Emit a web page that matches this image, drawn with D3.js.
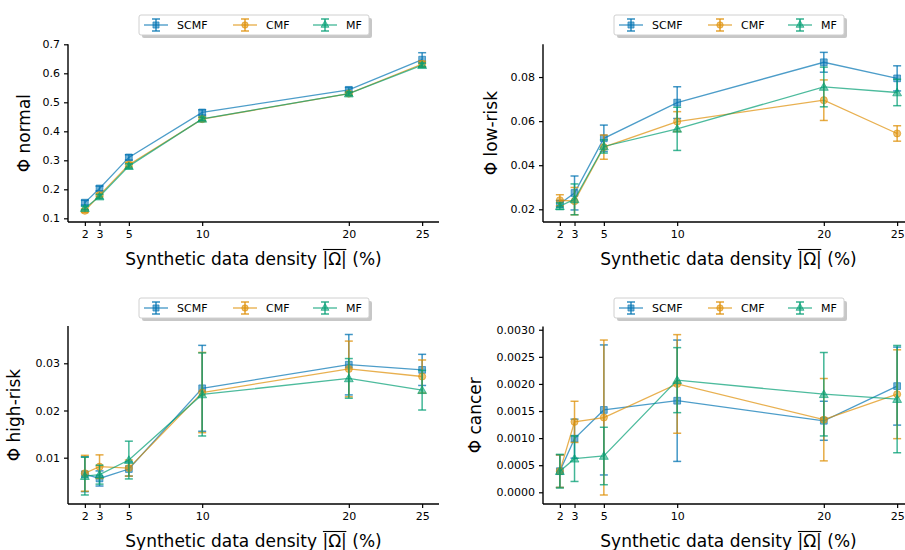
<!DOCTYPE html>
<html><head><meta charset="utf-8">
<script src="https://cdn.jsdelivr.net/npm/d3@7"></script>
<style>
body{margin:0;background:#fff}
svg{display:block}
text{font-family:"DejaVu Sans",sans-serif;fill:#000}
</style>
</head><body>
<svg id="c" width="905" height="550"></svg>
<script>
// ---------- data ----------
const xValues = [2, 3, 5, 10, 20, 25];
const xTickLabels = ["2", "3", "5", "10", "20", "25"];
const seriesNames = ["SCMF", "CMF", "MF"];

// Φ normal
const normalSCMF    = [0.154, 0.203, 0.310, 0.465, 0.543, 0.647];
const normalSCMFErr = [0.008, 0.008, 0.009, 0.009, 0.008, 0.024];
const normalCMF     = [0.126, 0.180, 0.285, 0.442, 0.530, 0.632];
const normalCMFErr  = [0.006, 0.006, 0.008, 0.007, 0.006, 0.010];
const normalMF      = [0.135, 0.175, 0.280, 0.443, 0.530, 0.628];
const normalMFErr   = [0.006, 0.007, 0.008, 0.006, 0.006, 0.007];
const normalTicks   = [0.1, 0.2, 0.3, 0.4, 0.5, 0.6, 0.7];

// Φ low-risk
const lowSCMF    = [0.0225, 0.0274, 0.0522, 0.0684, 0.0867, 0.0794];
const lowSCMFErr = [0.0015, 0.0077, 0.0060, 0.0072, 0.0045, 0.0057];
const lowCMF     = [0.0241, 0.0237, 0.0482, 0.0598, 0.0695, 0.0544];
const lowCMFErr  = [0.0025, 0.0062, 0.0055, 0.0045, 0.0092, 0.0035];
const lowMF      = [0.0214, 0.0245, 0.0485, 0.0565, 0.0755, 0.0730];
const lowMFErr   = [0.0015, 0.0070, 0.0030, 0.0098, 0.0090, 0.0060];
const lowTicks   = [0.02, 0.04, 0.06, 0.08];

// Φ high-risk
const highSCMF    = [0.0065, 0.0056, 0.0076, 0.0247, 0.0297, 0.0286];
const highSCMFErr = [0.0037, 0.0016, 0.0015, 0.0091, 0.0064, 0.0033];
const highCMF     = [0.0067, 0.0081, 0.0078, 0.0238, 0.0288, 0.0272];
const highCMFErr  = [0.0038, 0.0025, 0.0017, 0.0085, 0.0059, 0.0035];
const highMF      = [0.0061, 0.0064, 0.0095, 0.0234, 0.0268, 0.0243];
const highMFErr   = [0.0040, 0.0020, 0.0040, 0.0088, 0.0042, 0.0042];
const highTicks   = [0.01, 0.02, 0.03];

// Φ cancer
const cancerSCMF    = [0.00039, 0.00099, 0.00152, 0.00169, 0.00132, 0.00196];
const cancerSCMFErr = [0.00030, 0.00036, 0.00120, 0.00112, 0.00036, 0.00072];
const cancerCMF     = [0.00039, 0.00130, 0.00138, 0.00200, 0.00134, 0.00181];
const cancerCMFErr  = [0.00030, 0.00038, 0.00143, 0.00091, 0.00076, 0.00082];
const cancerMF      = [0.00039, 0.00062, 0.00067, 0.00207, 0.00181, 0.00172];
const cancerMFErr   = [0.00031, 0.00042, 0.00053, 0.00060, 0.00077, 0.00099];
const cancerTicks   = [0.0000, 0.0005, 0.0010, 0.0015, 0.0020, 0.0025, 0.0030];

const colors = {SCMF: "#0173b2", CMF: "#de8f05", MF: "#029e73"};
const symbols = {SCMF: d3.symbolSquare, CMF: d3.symbolCircle, MF: d3.symbolTriangle};
const symSize = {SCMF: 46, CMF: 40, MF: 34};

const panels = [
  {ylabel: "Φ normal", ticks: normalTicks, fmt: d3.format(".1f"),
   vals: {SCMF: [normalSCMF, normalSCMFErr], CMF: [normalCMF, normalCMFErr], MF: [normalMF, normalMFErr]},
   box: {l: 68, r: 439, t: 44.3, b: 222}, ydom: [0.0873, 0.7], legend: {x: 139, y: 15}, ylabX: 29.5},
  {ylabel: "Φ low-risk", ticks: lowTicks, fmt: d3.format(".2f"),
   vals: {SCMF: [lowSCMF, lowSCMFErr], CMF: [lowCMF, lowCMFErr], MF: [lowMF, lowMFErr]},
   box: {l: 543, r: 914, t: 44.3, b: 222}, ydom: [0.01423, 0.09486], legend: {x: 614, y: 15}, ylabX: 497},
  {ylabel: "Φ high-risk", ticks: highTicks, fmt: d3.format(".2f"),
   vals: {SCMF: [highSCMF, highSCMFErr], CMF: [highCMF, highCMFErr], MF: [highMF, highMFErr]},
   box: {l: 68, r: 439, t: 326, b: 504}, ydom: [0.00019, 0.0379], legend: {x: 139, y: 298}, ylabX: 20},
  {ylabel: "Φ cancer", ticks: cancerTicks, fmt: d3.format(".4f"),
   vals: {SCMF: [cancerSCMF, cancerSCMFErr], CMF: [cancerCMF, cancerCMFErr], MF: [cancerMF, cancerMFErr]},
   box: {l: 543, r: 914, t: 326.5, b: 504}, ydom: [-0.000216, 0.00306], legend: {x: 614, y: 298}, ylabX: 481}
];

const svg = d3.select("#c");
const xDomain = [0.85, 26.15];

panels.forEach((p, pi) => {
  const g = svg.append("g");
  const x = d3.scaleLinear().domain(xDomain).range([p.box.l, p.box.r]);
  const y = d3.scaleLinear().domain(p.ydom).range([p.box.b, p.box.t]);

  // axes
  const xAxis = d3.axisBottom(x).tickValues(xValues).tickFormat((d, i) => xTickLabels[i]).tickSizeOuter(0).tickSize(4).tickPadding(4);
  const yAxis = d3.axisLeft(y).tickValues(p.ticks).tickFormat(p.fmt).tickSizeOuter(0).tickSize(4).tickPadding(4);
  const gx = g.append("g").attr("transform", `translate(0,${p.box.b})`).call(xAxis);
  const gy = g.append("g").attr("transform", `translate(${p.box.l},0)`).call(yAxis);
  [gx, gy].forEach(a => {
    a.select(".domain").attr("stroke", "#000").attr("stroke-width", 1.4);
    a.selectAll(".tick line").attr("stroke", "#000").attr("stroke-width", 1.2);
    a.selectAll(".tick text").attr("font-size", 11).attr("font-family", "DejaVu Sans").attr("fill", "#111");
  });
  gx.select(".domain").attr("d", `M${p.box.l},0H${p.box.r}`);
  gy.select(".domain").attr("d", `M0,${p.box.b}V${p.box.t}`);

  // series
  seriesNames.forEach(s => {
    const [v, e] = p.vals[s];
    const c = colors[s];
    const pts = xValues.map((xv, i) => ({x: xv, y: v[i], e: e[i]}));
    const sg = g.append("g");
    // error bars
    pts.forEach(d => {
      const y0 = y(d.y - d.e), y1 = y(d.y + d.e), cx = x(d.x);
      sg.append("line").attr("x1", cx).attr("x2", cx).attr("y1", y0).attr("y2", y1)
        .attr("stroke", c).attr("stroke-width", 1.5).attr("stroke-opacity", 0.75);
      [y0, y1].forEach(yy => sg.append("line").attr("x1", cx - 4).attr("x2", cx + 4).attr("y1", yy).attr("y2", yy)
        .attr("stroke", c).attr("stroke-width", 1.5).attr("stroke-opacity", 0.75));
    });
    sg.append("path").datum(pts)
      .attr("d", d3.line().x(d => x(d.x)).y(d => y(d.y)))
      .attr("fill", "none").attr("stroke", c).attr("stroke-width", 1.3).attr("stroke-opacity", 0.7);
    sg.selectAll("path.m").data(pts).enter().append("path").attr("class", "m")
      .attr("d", d3.symbol().type(symbols[s]).size(symSize[s]))
      .attr("transform", d => `translate(${x(d.x)},${y(d.y) + (s === "MF" ? 0.8 : 0)})`)
      .attr("fill", c).attr("fill-opacity", 0.55).attr("stroke", c).attr("stroke-opacity", 0.6).attr("stroke-width", 1);
  });

  // y label
  const cy = (p.box.t + p.box.b) / 2;
  g.append("text").attr("transform", `translate(${p.ylabX},${cy}) rotate(-90)`)
    .attr("text-anchor", "middle").attr("font-size", 17).text(p.ylabel);

  // x label with overline on |Ω|
  const cx = (p.box.l + p.box.r) / 2;
  const base = p.box.b + 43;
  const prefix = "Synthetic data density ";
  const xl = g.append("text").attr("x", cx).attr("y", base).attr("text-anchor", "middle").attr("font-size", 17)
    .text(prefix + "|Ω| (%)");
  const node = xl.node();
  const total = node.getComputedTextLength();
  const startX = cx - total / 2;
  const a = node.getSubStringLength(0, prefix.length);
  const b = node.getSubStringLength(0, prefix.length + 3);
  g.append("line").attr("x1", startX + a + 0.5).attr("x2", startX + b - 0.5).attr("y1", base - 15.5).attr("y2", base - 15.5)
    .attr("stroke", "#000").attr("stroke-width", 1.1);

  // legend
  const L = p.legend, W = 230, H = 20;
  const lg = svg.append("g");
  lg.append("rect").attr("x", L.x + 3).attr("y", L.y + 3).attr("width", W).attr("height", H).attr("rx", 2)
    .attr("fill", "#999").attr("fill-opacity", 0.55);
  lg.append("rect").attr("x", L.x).attr("y", L.y).attr("width", W).attr("height", H).attr("rx", 2)
    .attr("fill", "#fff").attr("stroke", "#d0d0d0").attr("stroke-width", 1);
  const offs = [5, 94, 174];
  seriesNames.forEach((s, i) => {
    const c = colors[s];
    const hx = L.x + offs[i], hy = L.y + H / 2;
    lg.append("line").attr("x1", hx).attr("x2", hx + 24).attr("y1", hy).attr("y2", hy)
      .attr("stroke", c).attr("stroke-width", 1.3).attr("stroke-opacity", 0.75);
    lg.append("line").attr("x1", hx + 12).attr("x2", hx + 12).attr("y1", hy - 6).attr("y2", hy + 6)
      .attr("stroke", c).attr("stroke-width", 1.5).attr("stroke-opacity", 0.8);
    [hy - 6, hy + 6].forEach(yy => lg.append("line").attr("x1", hx + 8).attr("x2", hx + 16).attr("y1", yy).attr("y2", yy)
      .attr("stroke", c).attr("stroke-width", 1.5).attr("stroke-opacity", 0.8));
    lg.append("path").attr("d", d3.symbol().type(symbols[s]).size(symSize[s] * 0.8)())
      .attr("transform", `translate(${hx + 12},${hy})`)
      .attr("fill", c).attr("fill-opacity", 0.55).attr("stroke", c).attr("stroke-opacity", 0.6);
    lg.append("text").attr("x", hx + 33).attr("y", hy + 4).attr("font-size", 11).text(s);
  });
});
</script>
</body></html>
